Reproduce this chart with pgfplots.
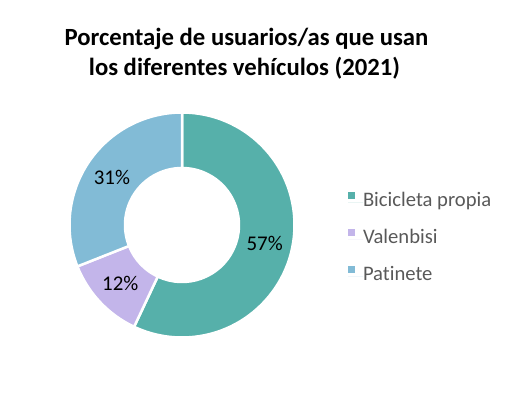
\documentclass[border=0pt]{standalone}
\usepackage{pgfplots}
\usepackage{pgfplotstable}
\pgfplotsset{compat=1.18}
\usepackage{fontspec}
\setmainfont{Carlito}[Ligatures={NoCommon}]
\definecolor{cBici}{HTML}{56B0AA}
\definecolor{cValen}{HTML}{C3B5EA}
\definecolor{cPat}{HTML}{82BBD6}
\definecolor{legtext}{HTML}{595959}

\pgfplotstableread{
name value
Bicicleta 57
Valenbisi 12
Patinete 31
}\shares

\newcommand\donutsector[3]{%
  \fill[#1, draw=white, line width=2.5bp, line join=miter]
    (axis cs:182,168) ++(#2:112.5bp) arc[start angle=#2, end angle=#3, radius=112.5bp]
    -- ++(#3+180:55.5bp) arc[start angle=#3, end angle=#2, radius=57bp] -- cycle;}

\begin{document}
\begin{tikzpicture}
\pgfplotstablegetelem{0}{value}\of\shares \let\vA\pgfplotsretval
\pgfplotstablegetelem{1}{value}\of\shares \let\vB\pgfplotsretval
\pgfplotstablegetelem{2}{value}\of\shares \let\vC\pgfplotsretval
\pgfmathsetmacro\aA{90}
\pgfmathsetmacro\aB{\aA-3.6*\vA}
\pgfmathsetmacro\aC{\aB-3.6*\vB}
\pgfmathsetmacro\aD{\aC-3.6*\vC}
\pgfmathsetmacro\xA{182+84.75*cos((\aA+\aB)/2)}
\pgfmathsetmacro\yA{168+84.75*sin((\aA+\aB)/2)}
\pgfmathsetmacro\xB{182+84.75*cos((\aB+\aC)/2)}
\pgfmathsetmacro\yB{168+84.75*sin((\aB+\aC)/2)}
\pgfmathsetmacro\xC{182+84.75*cos((\aC+\aD)/2)}
\pgfmathsetmacro\yC{168+84.75*sin((\aC+\aD)/2)}
\begin{axis}[
  width=514bp, height=393bp, scale only axis,
  xmin=0, xmax=514, ymin=0, ymax=393,
  hide axis, clip=false,
  legend image code/.code={\fill[#1] (0bp,3bp) rectangle (7bp,10bp); \path (0bp,0bp) -- (15bp,0bp);},
  legend style={at={(axis cs:348,201)}, anchor=north west, draw=none, fill=none,
    inner sep=0pt, outer sep=0pt, font=\fontsize{20.7}{24}\selectfont, text=legtext,
    row sep=17.7bp, cells={anchor=west},
    nodes={inner sep=0pt, text height=14bp, text depth=5bp}},
]
\donutsector{cBici}{\aA}{\aB}
\donutsector{cValen}{\aB}{\aC}
\donutsector{cPat}{\aC}{\aD}
\node[font=\fontsize{21}{24}\selectfont] at (axis cs:\xA,\yA) {\vA\%};
\node[font=\fontsize{21}{24}\selectfont] at (axis cs:\xB,\yB) {\vB\%};
\node[font=\fontsize{21}{24}\selectfont] at (axis cs:\xC,\yC) {\vC\%};
\node[anchor=base, inner sep=0pt, font=\bfseries\fontsize{24.8}{28}\selectfont] at (axis cs:246.5,347.3) {Porcentaje de usuarios/as que usan};
\node[anchor=base, inner sep=0pt, font=\bfseries\fontsize{24.8}{28}\selectfont] at (axis cs:244.5,317.3) {los diferentes vehículos (2021)};
\addlegendimage{fill=cBici, draw=none}
\addlegendentry{Bicicleta propia}
\addlegendimage{fill=cValen, draw=none}
\addlegendentry{Valenbisi}
\addlegendimage{fill=cPat, draw=none}
\addlegendentry{Patinete}
\end{axis}
\pgfresetboundingbox
\path (current axis.south west) rectangle (current axis.north east);
\end{tikzpicture}
\end{document}
